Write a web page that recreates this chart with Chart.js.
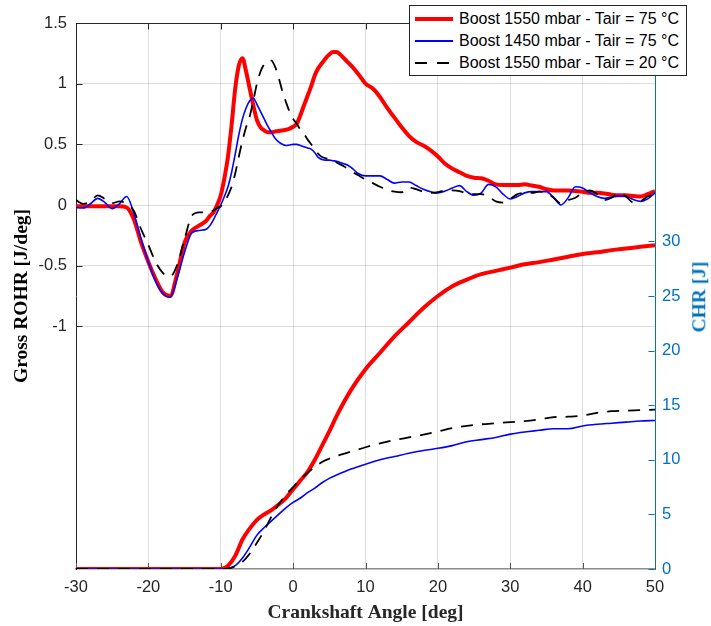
<!DOCTYPE html>
<html>
<head>
<meta charset="utf-8">
<script src="https://cdn.jsdelivr.net/npm/chart.js@4.4.1/dist/chart.umd.min.js"></script>
<style>
  body { margin: 0; background: #fff; }
  #wrap { position: relative; width: 711px; height: 626px; }
  #legend {
    position: absolute; left: 409px; top: 5px; width: 278px; height: 71px;
    box-sizing: border-box; border: 1px solid #262626; background: #fff;
    font: 16px 'Liberation Sans', Arial, sans-serif; color: #000;
  }
  .row { position: absolute; left: 0; right: 0; height: 20px; line-height: 20px; white-space: nowrap; }
  .swatch { position: absolute; left: 5px; width: 38px; }
  .label { position: absolute; left: 49px; top: 0; }
  #chrTitle {
    position: absolute; left: 698.5px; top: 297px;
    transform: translate(-50%, -50%) rotate(-90deg);
    font: bold 19.5px 'Liberation Serif', 'Times New Roman', serif;
    line-height: 1; color: #0072BD; white-space: nowrap;
  }
</style>
</head>
<body>
<div id="wrap">
  <canvas id="chart"></canvas>
  <div id="chrTitle">CHR [J]</div>
  <div id="legend">
    <div class="row" style="top:3.3px">
      <div class="swatch" style="top:8px;height:4px;background:#ff0000"></div>
      <span class="label">Boost 1550 mbar - Tair = 75 °C</span>
    </div>
    <div class="row" style="top:25px">
      <div class="swatch" style="top:9px;height:2px;background:#0000ff"></div>
      <span class="label">Boost 1450 mbar - Tair = 75 °C</span>
    </div>
    <div class="row" style="top:46.7px">
      <div class="swatch" style="top:9px;height:2px;background:repeating-linear-gradient(90deg,#000 0 12px,transparent 12px 22px)"></div>
      <span class="label">Boost 1550 mbar - Tair = 20 °C</span>
    </div>
  </div>
</div>
<script>
// crank angle grid for the heat release rate curves
const rohrAngle = [
  -30, -29, -28, -27, -26, -25, -24, -23, -22, -21, -20, -19, -18, -17, -16, -15, -14, -13, -12,
  -11.5, -11, -10.5, -10, -9.5, -9, -8.5, -8, -7.5, -7, -6.5, -6, -5.5, -5, -4.5, -4, -3.5, -3,
  -2.5, -2, -1.5, -1, -0.5, 0, 0.5, 1, 1.5, 2, 2.5, 3, 3.5, 4, 4.5, 5, 5.5, 6, 6.5, 7, 7.5, 8,
  9, 10, 11, 12, 13, 14, 15, 16, 17, 18, 19, 20, 21, 22, 23, 24, 25, 26, 27, 28, 29, 30,
  31, 32, 33, 34, 35, 36, 37, 38, 39, 40, 41, 42, 43, 44, 45, 46, 47, 48, 49, 50
];

// Gross ROHR [J/deg]
const rohr1550hot = [
  -0.01, -0.01, -0.01, -0.01, -0.01, -0.01, -0.01, -0.02, -0.12, -0.31, -0.47, -0.61, -0.72, -0.75, -0.56, -0.31, -0.21, -0.17, -0.13,
  -0.09, -0.06, 0.0, 0.08, 0.22, 0.40, 0.66, 0.96, 1.15, 1.21, 1.10, 0.96, 0.82, 0.70, 0.64, 0.615, 0.60, 0.60,
  0.605, 0.61, 0.615, 0.62, 0.63, 0.645, 0.67, 0.74, 0.82, 0.90, 0.98, 1.07, 1.13, 1.17, 1.21, 1.24, 1.26, 1.26, 1.24, 1.21, 1.18, 1.15,
  1.08, 1.00, 0.96, 0.89, 0.80, 0.72, 0.64, 0.57, 0.52, 0.49, 0.45, 0.40, 0.34, 0.30, 0.27, 0.24, 0.225, 0.22, 0.20, 0.17, 0.165, 0.165,
  0.165, 0.17, 0.16, 0.15, 0.13, 0.12, 0.12, 0.12, 0.115, 0.11, 0.10, 0.10, 0.095, 0.085, 0.08, 0.08, 0.075, 0.07, 0.09, 0.115
];
const rohr1450hot = [
  -0.02, -0.025, 0.01, 0.055, 0.02, -0.03, 0.01, 0.07, -0.07, -0.28, -0.47, -0.63, -0.73, -0.76, -0.60, -0.39, -0.23, -0.21, -0.20,
  -0.17, -0.12, -0.06, 0.0, 0.07, 0.15, 0.27, 0.42, 0.58, 0.71, 0.80, 0.86, 0.88, 0.83, 0.77, 0.71, 0.65, 0.60,
  0.55, 0.52, 0.50, 0.49, 0.495, 0.50, 0.50, 0.49, 0.48, 0.47, 0.46, 0.43, 0.39, 0.375, 0.37, 0.37, 0.365, 0.36, 0.35, 0.34, 0.33, 0.31,
  0.26, 0.24, 0.24, 0.24, 0.21, 0.18, 0.19, 0.19, 0.16, 0.13, 0.11, 0.10, 0.115, 0.14, 0.16, 0.11, 0.08, 0.10, 0.17, 0.15, 0.09, 0.05,
  0.07, 0.10, 0.11, 0.11, 0.11, 0.06, 0.0, 0.06, 0.15, 0.14, 0.10, 0.07, 0.055, 0.065, 0.075, 0.07, 0.045, 0.03, 0.05, 0.10
];
const rohr1550cold = [
  0.04, 0.01, 0.03, 0.08, 0.05, 0.015, 0.03, 0.01, -0.05, -0.20, -0.33, -0.47, -0.56, -0.59, -0.49, -0.28, -0.09, -0.06, -0.06,
  -0.06, -0.045, -0.025, -0.01, 0.03, 0.08, 0.15, 0.26, 0.40, 0.53, 0.64, 0.73, 0.86, 1.0, 1.10, 1.16, 1.19, 1.19,
  1.14, 1.05, 0.94, 0.85, 0.77, 0.71, 0.67, 0.62, 0.585, 0.54, 0.50, 0.46, 0.42, 0.395, 0.385, 0.38, 0.365, 0.35, 0.335, 0.32, 0.30, 0.28,
  0.245, 0.21, 0.18, 0.15, 0.125, 0.11, 0.105, 0.145, 0.13, 0.11, 0.10, 0.105, 0.12, 0.12, 0.115, 0.095, 0.09, 0.09, 0.07, 0.03, 0.02, 0.05,
  0.09, 0.10, 0.10, 0.11, 0.10, 0.06, 0.015, 0.04, 0.06, 0.10, 0.12, 0.09, 0.04, 0.06, 0.10, 0.07, 0.02, 0.03, 0.07, 0.09
];

// crank angle grid for the cumulative heat release curves
const chrAngle = [
  -30, -10, -9, -8, -7, -6, -5, -4, -3, -2, -1, 0, 1, 2, 3, 4, 5, 6,
  8, 10, 12, 14, 16, 18, 20, 22, 24, 26, 28, 30, 32, 34, 36, 38, 40, 42, 44, 46, 48, 50
];

// CHR [J]
const chr1550hot = [
  0, 0, 0.3, 1.2, 2.7, 3.7, 4.5, 5.0, 5.4, 5.9, 6.5, 7.3, 8.1, 8.9, 10.0, 11.3, 12.6, 14.0,
  16.4, 18.3, 19.8, 21.3, 22.6, 23.9, 25.0, 25.9, 26.5, 27.0, 27.3, 27.6, 27.9, 28.1, 28.35, 28.6, 28.85, 29.0, 29.2, 29.35, 29.5, 29.65
];
const chr1450hot = [
  0, 0, 0.05, 0.3, 1.0, 2.0, 3.1, 3.8, 4.4, 5.0, 5.6, 6.1, 6.5, 7.0, 7.4, 7.9, 8.3, 8.6,
  9.15, 9.6, 10.0, 10.3, 10.6, 10.85, 11.05, 11.3, 11.65, 11.85, 12.05, 12.35, 12.55, 12.7, 12.85, 12.85, 13.1, 13.25, 13.35, 13.45, 13.55, 13.6
];
const chr1550cold = [
  0, 0, 0.03, 0.25, 0.65, 1.4, 2.4, 3.5, 4.8, 5.9, 6.8, 7.5, 8.2, 8.8, 9.35, 9.8, 10.1, 10.35,
  10.75, 11.15, 11.5, 11.8, 12.05, 12.3, 12.6, 12.9, 13.1, 13.25, 13.35, 13.45, 13.55, 13.7, 13.9, 13.95, 14.05, 14.3, 14.45, 14.5, 14.55, 14.6
];

const seriesNames = [
  "Boost 1550 mbar - Tair = 75 °C",
  "Boost 1450 mbar - Tair = 75 °C",
  "Boost 1550 mbar - Tair = 20 °C"
];

const xTicks = [-30, -20, -10, 0, 10, 20, 30, 40, 50];

const GRID = 'rgba(0,0,0,0.13)';
const AXIS_DARK = '#262626';
const AXIS_BLUE = '#0072BD';
const SANS = "'Liberation Sans', Arial, sans-serif";
const SERIF = "'Liberation Serif', 'Times New Roman', serif";

function toPoints(xs, ys)
{
    return xs.map((x, i) => ({ x: x, y: ys[i] }));
}

const styles = [
    { borderColor: '#ff0000', borderWidth: 4, borderDash: [] },
    { borderColor: '#0000ff', borderWidth: 1.6, borderDash: [] },
    { borderColor: '#000000', borderWidth: 1.8, borderDash: [12, 9] }
];

const rohrSets = [rohr1550hot, rohr1450hot, rohr1550cold];
const chrSets = [chr1550hot, chr1450hot, chr1550cold];

const datasets = [];
rohrSets.forEach((vals, i) => {
    datasets.push(Object.assign({
        label: seriesNames[i],
        data: toPoints(rohrAngle, vals),
        yAxisID: 'y',
        pointRadius: 0,
        fill: false,
        cubicInterpolationMode: 'monotone',
        order: 3 - i
    }, styles[i]));
});
chrSets.forEach((vals, i) => {
    datasets.push(Object.assign({
        label: seriesNames[i] + ' (CHR)',
        data: toPoints(chrAngle, vals),
        yAxisID: 'chr',
        pointRadius: 0,
        fill: false,
        cubicInterpolationMode: 'monotone',
        order: 3 - i
    }, styles[i]));
});

// MATLAB style box: top edge plus inward tick marks
const boxTicks = {
    id: 'boxTicks',
    beforeDatasetsDraw(chart) {
        const ctx = chart.ctx;
        const a = chart.chartArea;
        const sx = chart.scales.x, sy = chart.scales.y, sc = chart.scales.chr;
        const len = 6;
        const top = Math.round(a.top) + 0.5;
        const bottom = Math.round(a.bottom);
        const left = Math.round(a.left) + 0.5;
        const right = Math.round(a.right) - 0.5;
        ctx.save();
        ctx.lineWidth = 1;

        ctx.strokeStyle = AXIS_DARK;
        ctx.beginPath();
        ctx.moveTo(a.left, top);
        ctx.lineTo(a.right, top);
        ctx.stroke();

        xTicks.forEach(v => {
            const px = Math.round(sx.getPixelForValue(v)) + 0.5;
            ctx.strokeStyle = AXIS_DARK;
            ctx.beginPath();
            ctx.moveTo(px, top);
            ctx.lineTo(px, top + len);
            ctx.stroke();
            ctx.strokeStyle = '#555';
            ctx.beginPath();
            ctx.moveTo(px, bottom);
            ctx.lineTo(px, bottom - len);
            ctx.stroke();
        });

        sy.ticks.forEach(t => {
            if (t.value < -1) return;
            const py = Math.round(sy.getPixelForValue(t.value)) + 0.5;
            ctx.strokeStyle = AXIS_DARK;
            ctx.beginPath();
            ctx.moveTo(left, py);
            ctx.lineTo(left + len, py);
            ctx.stroke();
        });

        sc.ticks.forEach(t => {
            if (t.value > 30) return;
            const py = Math.round(sc.getPixelForValue(t.value)) + 0.5;
            ctx.strokeStyle = AXIS_BLUE;
            ctx.beginPath();
            ctx.moveTo(right, py);
            ctx.lineTo(right - len, py);
            ctx.stroke();
        });
        ctx.restore();
    }
};

Chart.defaults.font.family = SANS;

{
    const ctx = document.getElementById("chart").getContext('2d');

    const chart = new Chart(ctx, {
        type: 'line',
        data: { datasets: datasets },
        options: {
            responsive: true,
            maintainAspectRatio: false,
            animation: false,
            layout: { padding: { top: 23, left: 0, right: 0, bottom: 0 } },
            plugins: {
                legend: { display: false },
                tooltip: { enabled: false }
            },
            scales: {
                x: {
                    type: 'linear',
                    min: -30,
                    max: 50,
                    afterBuildTicks: s => { s.ticks = xTicks.map(v => ({ value: v })); },
                    afterFit: s => { s.height = 57; },
                    ticks: {
                        autoSkip: false,
                        maxRotation: 0,
                        padding: 9,
                        color: AXIS_DARK,
                        font: { size: 16.5 },
                        callback: v => String(v)
                    },
                    grid: {
                        drawTicks: false,
                        color: c => (c.tick && c.tick.value > -30 && c.tick.value < 50) ? GRID : 'transparent'
                    },
                    border: { color: '#8c8c8c', width: 1.5 },
                    title: {
                        display: true,
                        text: 'Crankshaft Angle [deg]',
                        color: AXIS_DARK,
                        font: { family: SERIF, size: 19.5, weight: 'bold' },
                        padding: { top: 0, bottom: 1 }
                    }
                },
                y: {
                    type: 'linear',
                    position: 'left',
                    min: -3,
                    max: 1.5,
                    afterFit: s => { s.width = 76; },
                    ticks: {
                        stepSize: 0.5,
                        autoSkip: false,
                        padding: 9,
                        color: AXIS_DARK,
                        font: { size: 16.5 },
                        callback: v => v >= -1 ? String(v) : ''
                    },
                    grid: {
                        drawTicks: false,
                        color: c => (c.tick && c.tick.value >= -1 && c.tick.value < 1.5) ? GRID : 'transparent'
                    },
                    border: { color: AXIS_DARK, width: 1 },
                    title: {
                        display: true,
                        text: 'Gross ROHR [J/deg]',
                        color: '#000',
                        font: { family: SERIF, size: 19.5, weight: 'bold' },
                        padding: { top: 10, bottom: 0 }
                    }
                },
                chr: {
                    type: 'linear',
                    position: 'right',
                    min: 0,
                    max: 50,
                    afterFit: s => { s.width = 56; },
                    ticks: {
                        stepSize: 5,
                        autoSkip: false,
                        padding: 7,
                        color: AXIS_BLUE,
                        font: { size: 16.5 },
                        callback: v => v <= 30 ? String(v) : ''
                    },
                    grid: { drawOnChartArea: false, drawTicks: false },
                    border: { color: AXIS_BLUE, width: 1 }
                }
            }
        },
        plugins: [boxTicks]
    });
}
</script>
</body>
</html>
